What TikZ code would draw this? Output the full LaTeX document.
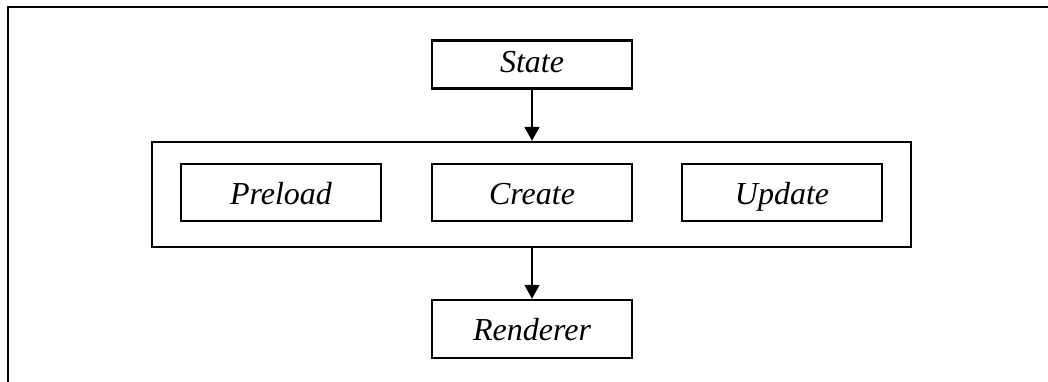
\documentclass[tikz,border=0pt]{standalone}
\usepackage{fontspec}
\setmainfont{Liberation Serif}
\usetikzlibrary{arrows.meta}
\begin{document}
\begin{tikzpicture}[x=1pt,y=-1pt,
  box/.style={draw=black,line width=2.4pt,inner sep=0pt,minimum width=200pt,
    text height=29.5pt,text depth=6.5pt,
    font=\fontsize{32}{36}\selectfont\itshape},
  frame/.style={draw=black,line width=2.4pt,inner sep=0pt},
  flow/.style={draw=black,line width=1.6pt,-{Triangle[width=15pt,length=14pt]}}]
  \useasboundingbox (0,0) rectangle (1048,382);
  % page border: top and left rules only
  \coordinate (bl) at (8,382);
  \coordinate (tl) at (8,7);
  \coordinate (tr) at (1048,7);
  \draw[line width=2.8pt] (bl) -- (tl) -- (tr);
  % engine loop container
  \node[frame,minimum width=759pt,minimum height=105pt] (loop) at (531.5,194.5) {};
  % boxes
  \node[box,minimum height=48pt,text height=27pt,text depth=10pt] (state) at (532,64.5) {State};
  \node[box,minimum height=57pt] (preload) at (281,192.5) {Preload};
  \node[box,minimum height=57pt] (create) at (532,192.5) {Create};
  \node[box,minimum height=57pt] (update) at (782,192.5) {Update};
  \node[box,minimum height=58pt] (renderer) at (532,329) {Renderer};
  % connectors
  \draw[flow] (state.south) -- (loop.north -| state.south);
  \draw[flow] (loop.south -| renderer.north) -- (renderer.north);
\end{tikzpicture}
\end{document}
